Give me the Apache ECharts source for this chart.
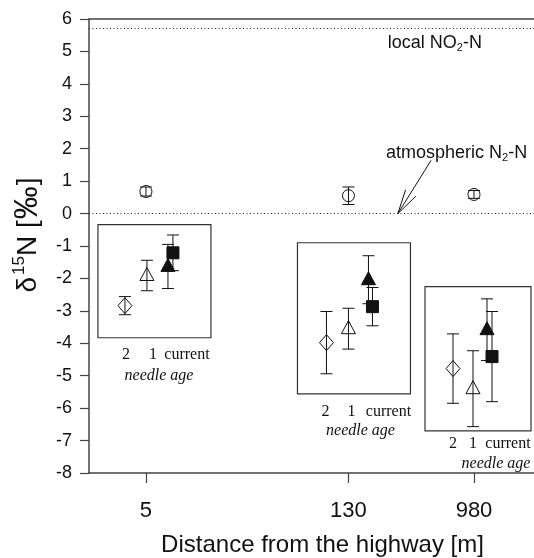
<!DOCTYPE html>
<html><head><meta charset="utf-8">
<script src="https://cdn.jsdelivr.net/npm/echarts@6/dist/echarts.min.js"></script>
<style>html,body{margin:0;padding:0;background:#fff}#c{width:534px;height:558px}</style>
</head><body><div id="c"></div>
<script>
// ---------- data ----------
const distances = [5, 130, 980];
const xTickLabels = ['5', '130', '980'];
const atmospheric = [0.68, 0.55, 0.59];
const atmosphericErr = [0.14, 0.27, 0.12];
const age2 = [-2.84, -3.98, -4.78];
const age2Err = [0.28, 0.96, 1.07];
const age1 = [-1.91, -3.55, -5.40];
const age1Err = [0.47, 0.63, 1.17];
const currentTri = [-1.63, -2.04, -3.58];
const currentTriErr = [0.68, 0.74, 0.95];
const currentSq = [-1.21, -2.87, -4.41];
const currentSqErr = [0.55, 0.59, 1.39];
const refLines = [5.7, 0];
const ageLabels = ['2', '1', 'current'];
const ageTitle = 'needle age';
const boxTop = [-0.34, -0.90, -2.25];
const boxBottom = [-3.83, -5.56, -6.70];
const annotationPos = [[245, 5.25], [238, 1.88]];
const annotationText = ['{a|local NO}{s|2}{a|-N}', '{a|atmospheric N}{s|2}{a|-N}'];
const arrowFrom = [491, 1.64];
const arrowTo = [288, 0];

// ---------- layout (pixels) ----------
const L = {
  off: { age2: [-21, -22, -21], age1: [1, 0, -1], tri: [22, 20, 13], sq: [27, 24, 18] },
  boxL: [-48, -51, -49], boxR: [65, 62, 57],
  labX: [[-20, 7, 41], [-23, 3, 40], [-21, -1, 34]],
  titleX: [13, 12, 22],
  labDy: [17, 18, 13], titleDy: [38, 37, 33]
};
const INK = '#111';
const SANS = '"Liberation Sans", Arial, Helvetica, sans-serif';
const SERIF = '"Liberation Serif", "Times New Roman", serif';

function markerShape(kind, x, y) {
  const s = { stroke: INK, lineWidth: 1 };
  if (kind === 'circle') return { type: 'circle', shape: { cx: x, cy: y, r: 6 }, style: Object.assign({ fill: 'transparent' }, s) };
  if (kind === 'diamond') return { type: 'polygon', shape: { points: [[x, y - 8], [x + 7, y], [x, y + 8], [x - 7, y]] }, style: Object.assign({ fill: 'transparent' }, s) };
  if (kind === 'otri') return { type: 'polygon', shape: { points: [[x, y - 8], [x + 7, y + 5], [x - 7, y + 5]] }, style: Object.assign({ fill: 'transparent' }, s) };
  if (kind === 'ftri') return { type: 'polygon', shape: { points: [[x, y - 8], [x + 7, y + 5], [x - 7, y + 5]] }, style: Object.assign({ fill: INK }, s) };
  return { type: 'rect', shape: { x: x - 6, y: y - 6, width: 12, height: 12 }, style: Object.assign({ fill: INK }, s) };
}

function errSeries(name, vals, errs, offsets, kind, extra) {
  return Object.assign({
    type: 'custom', name: name, coordinateSystem: 'cartesian2d', silent: true, z: 5,
    data: distances.map((d, i) => [d, vals[i], errs[i]]),
    renderItem: function (params, api) {
      const i = params.dataIndex;
      const d = api.value(0), v = api.value(1), e = api.value(2);
      const c = api.coord([d, v]);
      const t = api.coord([d, v + e]);
      const b = api.coord([d, v - e]);
      const x = c[0] + offsets[i];
      const ls = { stroke: INK, lineWidth: 1 };
      return {
        type: 'group', children: [
          { type: 'line', shape: { x1: x, y1: t[1], x2: x, y2: b[1] }, style: ls },
          { type: 'line', shape: { x1: x - 6, y1: t[1], x2: x + 6, y2: t[1] }, style: ls },
          { type: 'line', shape: { x1: x - 6, y1: b[1], x2: x + 6, y2: b[1] }, style: ls },
          markerShape(kind, x, c[1])
        ]
      };
    }
  }, extra || {});
}

const zero = distances.map(() => 0);

const option = {
  animation: false,
  backgroundColor: '#fff',
  grid: { left: 89, right: 0, top: 19, bottom: 85, containLabel: false, outerBoundsMode: 'none' },
  xAxis: [{
    type: 'log', logBase: 10, min: 2, max: 2573,
    axisLine: { show: true, onZero: false, lineStyle: { color: '#444', width: 1.5 } },
    axisTick: { show: true, inside: false, length: 10, customValues: distances, lineStyle: { color: '#444', width: 1.2 } },
    minorTick: { show: false },
    axisLabel: { show: true, customValues: distances, margin: 27, fontSize: 22, fontFamily: SANS, color: INK,
      formatter: function (v) { const i = distances.indexOf(Math.round(v)); return i >= 0 ? xTickLabels[i] : ''; } },
    splitLine: { show: false },
    name: 'Distance from the highway [m]', nameLocation: 'middle', nameGap: 60,
    nameTextStyle: { fontSize: 24, fontFamily: SANS, color: INK, padding: [0, 0, 0, 22] }
  }, {
    type: 'value', position: 'top', min: 0, max: 1,
    axisLine: { show: true, onZero: false, lineStyle: { color: '#444', width: 1.5 } },
    axisTick: { show: false }, axisLabel: { show: false }, splitLine: { show: false }
  }],
  yAxis: {
    type: 'value', min: -8, max: 6, interval: 1,
    axisLine: { show: true, onZero: false, lineStyle: { color: '#444', width: 1.5 } },
    axisTick: { show: true, inside: false, length: 9, lineStyle: { color: '#444', width: 1.2 } },
    axisLabel: { margin: 17, fontSize: 18, fontFamily: SANS, color: INK },
    splitLine: { show: false },
    name: '{dd|δ}{s|15}{d|N [}{p|‰}{d|]}', nameLocation: 'middle', nameGap: 44, nameRotate: 90,
    nameTextStyle: {
      padding: [0, 0, 0, 22],
      rich: {
        d: { fontSize: 28, fontFamily: SANS, color: INK, lineHeight: 34 },
        dd: { fontSize: 28, fontFamily: SANS, color: INK, lineHeight: 34, padding: [0, 2, 0, 0] },
        p: { fontSize: 33, fontFamily: SANS, color: INK, lineHeight: 34, padding: [0, 1, 0, 1] },
        s: { fontSize: 17, fontFamily: SANS, color: INK, lineHeight: 17, verticalAlign: 'top' }
      }
    }
  },
  series: [
    {
      type: 'custom', name: 'insets', coordinateSystem: 'cartesian2d', silent: true, z: 2,
      data: distances.map((d, i) => [d, boxTop[i], boxBottom[i]]),
      renderItem: function (params, api) {
        const i = params.dataIndex;
        const d = api.value(0);
        const tp = api.coord([d, api.value(1)]);
        const bt = api.coord([d, api.value(2)]);
        const cx = tp[0];
        const children = [{
          type: 'rect',
          shape: { x: cx + L.boxL[i], y: tp[1], width: L.boxR[i] - L.boxL[i], height: bt[1] - tp[1] },
          style: { fill: 'transparent', stroke: '#333', lineWidth: 1.2 }
        }];
        ageLabels.forEach((t, k) => children.push({
          type: 'text',
          style: { text: t, x: cx + L.labX[i][k], y: bt[1] + L.labDy[i], fontSize: 16, fontFamily: SERIF, fill: INK, align: 'center', verticalAlign: 'middle' }
        }));
        children.push({
          type: 'text',
          style: { text: ageTitle, x: cx + L.titleX[i], y: bt[1] + L.titleDy[i], fontSize: 16, fontStyle: 'italic', fontFamily: SERIF, fill: INK, align: 'center', verticalAlign: 'middle' }
        });
        return { type: 'group', children: children };
      }
    },
    errSeries('atmospheric', atmospheric, atmosphericErr, zero, 'circle', {
      markLine: {
        silent: true, symbol: ['none', 'none'], label: { show: false },
        lineStyle: { type: [1, 2.5], color: '#222', width: 1 },
        data: refLines.map(v => ({ yAxis: v }))
      }
    }),
    errSeries('age2', age2, age2Err, L.off.age2, 'diamond'),
    errSeries('age1', age1, age1Err, L.off.age1, 'otri'),
    errSeries('currentTri', currentTri, currentTriErr, L.off.tri, 'ftri'),
    errSeries('currentSq', currentSq, currentSqErr, L.off.sq, 'square'),
    {
      type: 'custom', name: 'annotations', coordinateSystem: 'cartesian2d', silent: true, z: 6,
      data: annotationPos.map((p, i) => [p[0], p[1], i]),
      renderItem: function (params, api) {
        const p = api.coord([api.value(0), api.value(1)]);
        return {
          type: 'text',
          style: {
            text: annotationText[params.dataIndex], x: p[0], y: p[1], align: 'left', verticalAlign: 'middle',
            rich: {
              a: { fontSize: 18, fontFamily: SANS, fill: INK, lineHeight: 21 },
              s: { fontSize: 11, fontFamily: SANS, fill: INK, lineHeight: 11, verticalAlign: 'bottom' }
            }
          }
        };
      }
    },
    {
      type: 'custom', name: 'arrow', coordinateSystem: 'cartesian2d', silent: true, z: 6,
      data: [[arrowFrom[0], arrowFrom[1], arrowTo[0], arrowTo[1]]],
      renderItem: function (params, api) {
        const a = api.coord([api.value(0), api.value(1)]);
        const b = api.coord([api.value(2), api.value(3)]);
        const ang = Math.atan2(a[1] - b[1], a[0] - b[0]);
        const len = 25, spread = 14 * Math.PI / 180;
        const ls = { stroke: INK, lineWidth: 1 };
        return {
          type: 'group', children: [
            { type: 'line', shape: { x1: a[0], y1: a[1], x2: b[0], y2: b[1] }, style: ls },
            { type: 'line', shape: { x1: b[0], y1: b[1], x2: b[0] + len * Math.cos(ang + spread), y2: b[1] + len * Math.sin(ang + spread) }, style: ls },
            { type: 'line', shape: { x1: b[0], y1: b[1], x2: b[0] + len * Math.cos(ang - spread), y2: b[1] + len * Math.sin(ang - spread) }, style: ls }
          ]
        };
      }
    }
  ]
};

const chart = echarts.init(document.getElementById('c'), null, { renderer: 'canvas' });
chart.setOption(option);
</script>
</body></html>
